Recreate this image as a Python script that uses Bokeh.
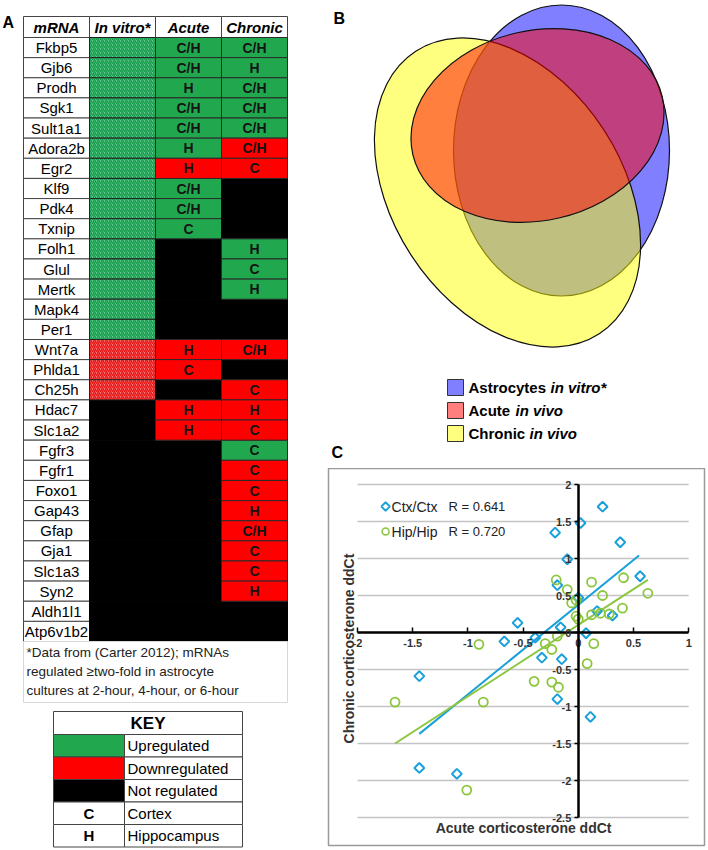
import math
from bokeh.plotting import figure
from bokeh.layouts import row, column
from bokeh.models import Range1d, LinearAxis, FixedTicker, CustomJSTickFormatter
from bokeh.core.properties import value
from bokeh.embed import file_html
from bokeh.resources import INLINE

FNAME = "Liberation Sans"
FONT = value(FNAME)
GREEN = "#21a84f"
RED = "#ff0000"
BLACK = "#000000"

# ---------------- Panel A data ----------------
genes = ["Fkbp5", "Gjb6", "Prodh", "Sgk1", "Sult1a1", "Adora2b", "Egr2", "Klf9", "Pdk4",
         "Txnip", "Folh1", "Glul", "Mertk", "Mapk4", "Per1", "Wnt7a", "Phlda1", "Ch25h",
         "Hdac7", "Slc1a2", "Fgfr3", "Fgfr1", "Foxo1", "Gap43", "Gfap", "Gja1", "Slc1a3",
         "Syn2", "Aldh1l1", "Atp6v1b2"]
in_vitro = ["U"] * 15 + ["D"] * 3 + ["N"] * 12
acute_status = ["U", "U", "U", "U", "U", "U", "D", "U", "U", "U", "N", "N", "N", "N", "N",
                "D", "D", "N", "D", "D"] + ["N"] * 10
acute_region = ["C/H", "C/H", "H", "C/H", "C/H", "H", "H", "C/H", "C/H", "C", "", "", "", "", "",
                "H", "C", "", "H", "H"] + [""] * 10
chronic_status = ["U", "U", "U", "U", "U", "D", "D", "N", "N", "N", "U", "U", "U", "N", "N",
                  "D", "N", "D", "D", "D", "U", "D", "D", "D", "D", "D", "D", "D", "N", "N"]
chronic_region = ["C/H", "H", "C/H", "C/H", "C/H", "C/H", "C", "", "", "", "H", "C", "H", "", "",
                  "C/H", "", "C", "H", "C", "C", "C", "C", "H", "C/H", "C", "C", "H", "", ""]
headers = ["mRNA", "In vitro*", "Acute", "Chronic"]
footnote = ["*Data from (Carter 2012); mRNAs",
            "regulated \u2265two-fold in astrocyte",
            "cultures at 2-hour, 4-hour, or 6-hour"]
key_swatch = ["U", "D", "N", "C", "H"]
key_label = ["Upregulated", "Downregulated", "Not regulated", "Cortex", "Hippocampus"]

# ---------------- Panel B data ----------------
venn_names = ["Astrocytes", "Acute", "Chronic"]
venn_italic = ["in vitro*", "in vivo", "in vivo"]
venn_colors = ["#0000ff", "#ff0000", "#ffff00"]

# ---------------- Panel C data ----------------
ctx_x = [-0.21, 0.02, 0.22, -0.10, 0.38, 0.56, -0.19, 0.00, 0.17, 0.31, -0.16, 0.07,
         -0.55, -0.39, -0.67, -0.33, -0.15, -0.19, 0.11, -1.44, -1.44, -1.10]
ctx_y = [1.35, 1.48, 1.70, 0.99, 1.22, 0.76, 0.64, 0.47, 0.29, 0.23, 0.07, -0.01,
         0.13, -0.07, -0.12, -0.34, -0.36, -0.90, -1.14, -0.59, -1.83, -1.91]
hip_x = [-0.20, -0.10, 0.12, 0.41, 0.63, 0.22, -0.06, -0.02, -0.02, 0.00, 0.12, 0.20, 0.28,
         0.40, 0.14, 0.08, -0.19, -0.30, -0.24, -0.90, -0.40, -0.24, -0.18, -0.86, -1.66, -1.01]
hip_y = [0.71, 0.58, 0.68, 0.74, 0.53, 0.50, 0.40, 0.44, 0.22, 0.18, 0.24, 0.26, 0.25,
         0.33, -0.15, -0.42, -0.05, -0.15, -0.23, -0.16, -0.66, -0.67, -0.74, -0.94, -0.94, -2.13]
ctx_fit_x = [-1.44, 0.55]
ctx_fit_y = [-1.37, 1.04]
hip_fit_x = [-1.66, 0.63]
hip_fit_y = [-1.50, 0.71]
series_names = ["Ctx/Ctx", "Hip/Hip"]
r_values = ["R = 0.641", "R = 0.720"]
x_ticks = [-2, -1.5, -1, -0.5, 0, 0.5, 1]
y_ticks = [2, 1.5, 1, 0.5, 0, -0.5, -1, -1.5, -2, -2.5]
x_title = "Acute corticosterone ddCt"
y_title = "Chronic corticosterone ddCt"

STATUS_COLOR = {"U": GREEN, "D": RED, "N": BLACK}


def blank(fig):
    fig.grid.visible = False
    fig.outline_line_color = None
    return fig


# =============== Panel A ===============
pa = blank(figure(width=300, height=850, x_range=Range1d(0, 300), y_range=Range1d(-850, 0),
                  output_backend="svg", toolbar_location=None, min_border=0,
                  x_axis_location=None, y_axis_location=None))
TL, CW, TT, HH = 23, 66, 16, 21
RH = (641 - 37) / len(genes)


def cx(c):
    return TL + (c + 0.5) * CW


def ry(i):
    return -(TT + HH + (i + 0.5) * RH)


n = len(genes)
# header
pa.rect(x=[cx(c) for c in range(4)], y=[-(TT + HH / 2)] * 4, width=CW, height=HH,
        fill_color="white", line_color="#444", line_width=1)
pa.text(x=[cx(c) for c in range(4)], y=[-(TT + HH / 2)] * 4, text=headers,
        text_align="center", text_baseline="middle", text_font=FONT,
        text_font_size="15px", text_font_style="bold italic", text_color="black")
# gene column
pa.rect(x=[cx(0)] * n, y=[ry(i) for i in range(n)], width=CW, height=RH,
        fill_color="white", line_color="#444", line_width=1)
pa.text(x=[cx(0)] * n, y=[ry(i) for i in range(n)], text=genes, text_align="center",
        text_baseline="middle", text_font=FONT, text_font_size="15px", text_color="black")
# in vitro column
iv_up = [i for i, s in enumerate(in_vitro) if s == "U"]
iv_dn = [i for i, s in enumerate(in_vitro) if s == "D"]
iv_no = [i for i, s in enumerate(in_vitro) if s == "N"]
pa.rect(x=[cx(1)] * len(iv_no), y=[ry(i) for i in iv_no], width=CW, height=RH,
        fill_color=BLACK, line_color=BLACK)
pa.rect(x=[cx(1)] * len(iv_up), y=[ry(i) for i in iv_up], width=CW, height=RH,
        fill_color="#62c98f", line_color="#222", line_width=1,
        hatch_pattern="/", hatch_color="#169a4c", hatch_scale=4, hatch_weight=1.4)
pa.rect(x=[cx(1)] * len(iv_dn), y=[ry(i) for i in iv_dn], width=CW, height=RH,
        fill_color="#ff7676", line_color="#222", line_width=1,
        hatch_pattern="/", hatch_color="#e21414", hatch_scale=4, hatch_weight=1.4)
# acute / chronic
for c, stat, reg in ((2, acute_status, acute_region), (3, chronic_status, chronic_region)):
    for st in ("N", "U", "D"):
        idx = [i for i, s in enumerate(stat) if s == st]
        pa.rect(x=[cx(c)] * len(idx), y=[ry(i) for i in idx], width=CW, height=RH,
                fill_color=STATUS_COLOR[st], line_color=BLACK if st == "N" else "#2a2a2a",
                line_width=1)
    pa.text(x=[cx(c)] * n, y=[ry(i) for i in range(n)], text=reg, text_align="center",
            text_baseline="middle", text_font=FONT, text_font_size="14px",
            text_font_style="bold", text_color="#141414")
pa.text(x=[2], y=[-22], text=["A"], text_align="left", text_baseline="middle",
        text_font=FONT, text_font_size="16px", text_font_style="bold", text_color="black")
# footnote
pa.rect(x=[TL + 2 * CW], y=[-(641 + 702) / 2], width=4 * CW, height=61,
        fill_color="white", line_color="#d8d8d8", line_width=1)
pa.text(x=[26] * 3, y=[-652, -671, -690], text=footnote, text_align="left",
        text_baseline="middle", text_font=FONT, text_font_size="13.5px", text_color="#222")
# key table
KL, KS, KR, KT, KHH = 53, 124, 242, 711, 23
KRH = 22.5
pa.rect(x=[(KL + KR) / 2], y=[-(KT + KHH / 2)], width=KR - KL, height=KHH,
        fill_color="white", line_color="#444", line_width=1)
pa.text(x=[(KL + KR) / 2], y=[-(KT + KHH / 2)], text=["KEY"], text_align="center",
        text_baseline="middle", text_font=FONT, text_font_size="17px",
        text_font_style="bold", text_color="black")
ky = [-(KT + KHH + (j + 0.5) * KRH) for j in range(len(key_label))]
pa.rect(x=[(KL + KS) / 2] * 5, y=ky, width=KS - KL, height=KRH,
        fill_color=[STATUS_COLOR.get(s, "white") for s in key_swatch],
        line_color="#444", line_width=1)
pa.rect(x=[(KS + KR) / 2] * 5, y=ky, width=KR - KS, height=KRH,
        fill_color="white", line_color="#444", line_width=1)
pa.text(x=[(KL + KS) / 2] * 2, y=ky[3:], text=key_swatch[3:], text_align="center",
        text_baseline="middle", text_font=FONT, text_font_size="15px",
        text_font_style="bold", text_color="black")
pa.text(x=[KS + 3] * 5, y=ky, text=key_label, text_align="left", text_baseline="middle",
        text_font=FONT, text_font_size="15px", text_color="black")

# =============== Panel B ===============
# same side borders as panel C (column layouts align plot frames)
pb = blank(figure(width=408, height=468, x_range=Range1d(328, 704), y_range=Range1d(-468, 0),
                  output_backend="svg", toolbar_location=None, min_border_left=28,
                  min_border_right=4, min_border_top=0, min_border_bottom=0,
                  x_axis_location=None, y_axis_location=None))
# astrocytes (blue), chronic (yellow), acute (red)
pb.ellipse(x=[561], y=[-150], width=[216], height=[291], angle=0,
           fill_color=venn_colors[0], fill_alpha=0.5, line_color="#111", line_width=1.2)
pb.ellipse(x=[507], y=[-192], width=[337], height=[230], angle=math.radians(-57),
           fill_color=venn_colors[2], fill_alpha=0.5, line_color="#111", line_width=1.2)
pb.ellipse(x=[537], y=[-125], width=[256], height=[190], angle=math.radians(13),
           fill_color=venn_colors[1], fill_alpha=0.5, line_color="#111", line_width=1.2)
leg_y = [-387, -410, -433]
pb.rect(x=[455] * 3, y=leg_y, width=16, height=16, fill_color=venn_colors, fill_alpha=0.5,
        line_color="#333", line_width=1)
pb.text(x=[468] * 3, y=leg_y, text=venn_names, text_align="left", text_baseline="middle",
        text_font=FONT, text_font_size="15px", text_font_style="bold", text_color="black")
pb.text(x=[550, 515, 529], y=leg_y, text=venn_italic, text_align="left",
        text_baseline="middle", text_font=FONT, text_font_size="15px",
        text_font_style="bold italic", text_color="black")
pb.text(x=[333, 331], y=[-18, -452], text=["B", "C"], text_align="left", text_baseline="middle",
        text_font=FONT, text_font_size="16px", text_font_style="bold", text_color="black")

# =============== Panel C ===============
PXU, PYU = 110.4, 74.0
FW, FH = 376, 377
x0 = min(x_ticks) - 29 / PXU
y1 = max(y_ticks) + 16 / PYU
pc = figure(width=408, height=382, x_range=Range1d(x0, x0 + FW / PXU),
            y_range=Range1d(y1 - FH / PYU, y1), output_backend="svg",
            toolbar_location=None, min_border_left=28, min_border_right=4,
            min_border_top=0, min_border_bottom=5,
            x_axis_location=None, y_axis_location=None)
pc.grid.visible = False
pc.outline_line_color = "#9a9a9a"
pc.outline_line_width = 1.5
pc.segment(x0=[min(x_ticks)] * len(y_ticks), y0=y_ticks, x1=[max(x_ticks)] * len(y_ticks),
           y1=y_ticks, line_color="#c4c4c4", line_width=1.4)
fmt = CustomJSTickFormatter(code="return tick.toString();")
xa = LinearAxis(fixed_location=0, bounds=(min(x_ticks), max(x_ticks)),
                ticker=FixedTicker(ticks=x_ticks), formatter=fmt,
                axis_line_width=2.5, axis_line_color="black",
                major_tick_in=5, major_tick_out=0, major_tick_line_width=1.5,
                minor_tick_line_color=None, major_label_standoff=6,
                major_label_text_font=FNAME, major_label_text_font_size="11px",
                major_label_text_font_style="bold", major_label_text_color="#333")
ya = LinearAxis(fixed_location=0, bounds=(min(y_ticks), max(y_ticks)),
                ticker=FixedTicker(ticks=y_ticks), formatter=fmt,
                axis_line_width=2.5, axis_line_color="black",
                major_tick_in=0, major_tick_out=4, major_tick_line_width=1.5,
                minor_tick_line_color=None, major_label_standoff=3,
                major_label_text_font=FNAME, major_label_text_font_size="11px",
                major_label_text_font_style="bold", major_label_text_color="#333")
pc.add_layout(xa, "below")
pc.add_layout(ya, "left")
BLUE = "#1aa0da"
LGREEN = "#8cc63f"
pc.line(ctx_fit_x, ctx_fit_y, line_color=BLUE, line_width=2)
pc.line(hip_fit_x, hip_fit_y, line_color=LGREEN, line_width=2)
pc.scatter(ctx_x, ctx_y, marker="square", angle=math.pi / 4, size=7,
           fill_color=None, line_color=BLUE, line_width=2)
pc.scatter(hip_x, hip_y, marker="circle", size=9, fill_color=None,
           line_color=LGREEN, line_width=1.8)


def px(v):
    return (v - 577.7) / PXU


def py(v):
    return (632 - v) / PYU


# legend (marker swatches + labels)
ly = [py(506), py(531)]
pc.scatter([px(385)], [ly[0]], marker="square", angle=math.pi / 4, size=6,
           fill_color=None, line_color=BLUE, line_width=1.8)
pc.scatter([px(385)], [ly[1]], marker="circle", size=7, fill_color=None,
           line_color=LGREEN, line_width=1.5)
pc.text(x=[px(391)] * 2, y=ly, text=series_names, text_align="left", text_baseline="middle",
        text_font=FONT, text_font_size="14px", text_color="#222")
pc.text(x=[px(448)] * 2, y=ly, text=r_values,
        text_align="left", text_baseline="middle", text_font=FONT, text_font_size="13px",
        text_color="#222")
pc.text(x=[px(523)], y=[py(827)], text=[x_title], text_align="center",
        text_baseline="middle", text_font=FONT, text_font_size="14px",
        text_font_style="bold", text_color="#333")
pc.text(x=[px(348)], y=[py(648)], text=[y_title], angle=math.pi / 2,
        text_align="center", text_baseline="middle", text_font=FONT, text_font_size="14px",
        text_font_style="bold", text_color="#333")

layout = row(pa, column(pb, pc))
open("out.html", "w").write(file_html(layout, INLINE))
